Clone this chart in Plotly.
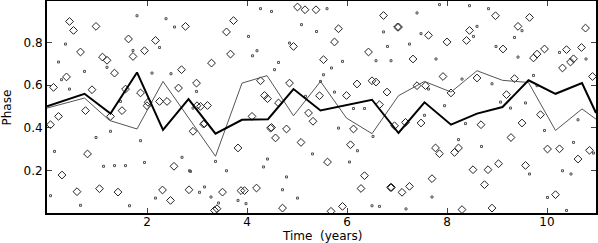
import plotly.graph_objects as go

# Large open diamonds (time in years, phase)
big_x = [0.45, 0.53, 0.98, 0.67, 1.11, 1.20, 1.35, 1.63, 1.72, 1.95, 2.17, 2.77, 2.69, 2.99,
         0.39, 0.13, 0.90, 1.57, 1.87, 2.00, 2.25, 2.40, 2.63, 3.00, 0.77, 1.50,
         0.23, 0.07, 1.27, 0.81, 0.30, 0.60, 1.05, 1.42, 2.31, 2.47, 2.54, 2.84, 2.92, 2.02,
         5.01, 5.16, 5.38, 3.73, 3.59, 3.67, 3.29, 4.93, 5.83, 5.75, 5.53, 6.43, 6.73, 7.01,
         4.27, 4.85, 4.35, 4.41, 4.63, 3.07, 3.21, 5.45, 5.99, 5.23, 6.20, 6.50, 6.58, 6.80, 6.65, 4.10,
         3.15, 3.82, 4.57, 4.47, 4.79, 5.08, 5.61, 6.07, 6.13, 6.35, 6.28, 6.89, 3.51, 3.88, 3.95, 4.19,
         3.40, 3.35, 4.71, 5.68, 5.91, 5.32, 3.13, 4.49,
         7.03, 7.63, 8.00, 8.39, 8.45, 8.97, 9.42, 9.65, 10.77, 9.12, 9.80, 9.73, 9.95, 10.39, 10.69,
         10.53, 10.47, 10.31, 7.32, 7.92, 8.60, 9.35, 10.91, 7.40, 7.57, 8.08, 9.19, 9.87,
         6.95, 7.17, 7.48, 7.77, 7.85, 8.15, 8.23, 8.68, 9.28, 9.50, 10.01, 10.25, 10.85, 10.62,
         9.03, 8.82, 8.52, 9.57, 7.70, 8.75, 7.25, 7.10, 6.87, 10.17, 8.30, 8.90]
big_y = [0.898, 0.856, 0.875, 0.755, 0.731, 0.716, 0.656, 0.816, 0.734, 0.761, 0.809, 0.875, 0.672, 0.609,
         0.638, 0.589, 0.578, 0.581, 0.563, 0.503, 0.523, 0.523, 0.586, 0.503, 0.480, 0.480,
         0.453, 0.414, 0.453, 0.277, 0.178, 0.100, 0.114, 0.098, 0.108, 0.059, 0.219, 0.109, 0.383, 0.519,
         0.966, 0.953, 0.953, 0.902, 0.849, 0.745, 0.703, 0.781, 0.864, 0.802, 0.719, 0.755, 0.926, 0.872,
         0.620, 0.609, 0.551, 0.536, 0.516, 0.500, 0.504, 0.550, 0.551, 0.469, 0.605, 0.620, 0.614, 0.567, 0.508, 0.453,
         0.419, 0.305, 0.352, 0.398, 0.394, 0.331, 0.239, 0.320, 0.394, 0.175, 0.115, 0.120, 0.098, 0.105, 0.105, 0.117,
         0.020, 0.012, 0.023, 0.008, 0.031, 0.430, 0.417, 0.401,
         0.872, 0.833, 0.802, 0.809, 0.856, 0.925, 0.875, 0.917, 0.867, 0.769, 0.745, 0.727, 0.769, 0.766, 0.776,
         0.723, 0.708, 0.680, 0.722, 0.640, 0.633, 0.630, 0.640, 0.597, 0.597, 0.563, 0.555, 0.461,
         0.409, 0.425, 0.422, 0.305, 0.278, 0.284, 0.305, 0.414, 0.354, 0.422, 0.300, 0.301, 0.294, 0.253,
         0.231, 0.203, 0.203, 0.223, 0.161, 0.133, 0.125, 0.097, 0.120, 0.086, 0.016, 0.023]

# Small points
small_x = [1.80, 2.38, 2.55, 0.37, 0.23, 0.75, 1.20, 0.29, 0.45, 1.72, 2.25, 2.10, 2.48, 2.92, 1.47,
           0.07, 0.15, 0.67, 0.98, 1.27, 1.13, 1.35, 1.57, 1.65, 1.87, 1.95, 2.17, 2.70, 2.85,
           4.27, 4.49, 5.60, 5.09, 5.39, 4.03, 4.20, 4.11, 4.63, 4.55, 4.85, 5.69, 5.91, 5.53, 6.58,
           6.88, 6.81, 6.73, 2.99, 5.75, 6.13, 6.35, 5.17, 5.47,
           3.37, 3.59, 4.33, 4.41, 4.79, 4.71, 5.01, 5.31, 6.05, 6.21, 5.83, 6.50, 6.65, 3.15, 3.05,
           3.28, 3.82, 3.98, 3.43, 2.87, 6.52,
           7.85, 8.45, 8.83, 7.40, 8.60, 9.50, 7.48, 8.53, 9.35, 7.25, 8.98, 10.25, 10.78, 7.78, 9.42,
           8.30, 8.90, 9.73, 7.63, 9.80, 9.07, 9.27, 9.57, 7.95,
           7.55, 8.37, 8.69, 8.23, 9.95, 10.53, 10.31, 10.48, 9.65, 7.70, 10.01, 7.18, 10.39, 10.62, 10.93]
small_y = [0.925, 0.911, 0.872, 0.792, 0.708, 0.664, 0.683, 0.625, 0.581, 0.762, 0.776, 0.656, 0.653, 0.492, 0.523,
           0.081, 0.289, 0.036, 0.354, 0.383, 0.219, 0.222, 0.222, 0.034, 0.339, 0.237, 0.070, 0.261, 0.198,
           0.958, 0.945, 0.958, 0.883, 0.851, 0.828, 0.761, 0.737, 0.706, 0.672, 0.797, 0.680, 0.711, 0.648, 0.714,
           0.714, 0.781, 0.849, 0.570, 0.567, 0.490, 0.490, 0.547, 0.617,
           0.242, 0.198, 0.216, 0.253, 0.169, 0.109, 0.070, 0.277, 0.239, 0.292, 0.398, 0.034, 0.031, 0.122, 0.097,
           0.075, 0.059, 0.044, 0.047, 0.195, 0.359,
           0.977, 0.972, 0.958, 0.938, 0.875, 0.855, 0.841, 0.828, 0.823, 0.792, 0.781, 0.753, 0.722, 0.722, 0.731,
           0.628, 0.606, 0.645, 0.581, 0.597, 0.520, 0.492, 0.516, 0.503,
           0.458, 0.419, 0.312, 0.344, 0.387, 0.331, 0.198, 0.183, 0.183, 0.075, 0.073, 0.019, 0.012, 0.437, 0.281]

# Thick (mean) line
thick_x = [0.0, 0.75, 1.27, 1.80, 2.32, 2.83, 3.37, 3.90, 4.42, 4.93, 5.47, 5.99, 6.50, 7.03,
           7.55, 8.08, 8.60, 9.11, 9.63, 10.17, 10.70, 10.98]
thick_y = [0.500, 0.559, 0.466, 0.659, 0.390, 0.534, 0.372, 0.437, 0.440, 0.581, 0.481, 0.508, 0.531, 0.375,
           0.519, 0.414, 0.466, 0.497, 0.622, 0.559, 0.609, 0.469]

# Thin line
thin_x = [0.0, 0.75, 1.25, 1.80, 2.32, 2.83, 3.37, 3.90, 4.40, 4.93, 5.47, 5.99, 6.50, 7.03,
          7.55, 8.08, 8.60, 9.11, 9.63, 10.17, 10.70, 10.98]
thin_y = [0.492, 0.539, 0.434, 0.394, 0.617, 0.449, 0.266, 0.609, 0.644, 0.456, 0.617, 0.445, 0.372, 0.550,
          0.617, 0.567, 0.667, 0.622, 0.612, 0.387, 0.488, 0.440]

fig = go.Figure()
fig.add_trace(go.Scatter(x=small_x, y=small_y, mode="markers",
                         marker=dict(symbol="square-open", size=2, color="#555555",
                                     line=dict(width=1, color="#555555")),
                         hoverinfo="skip"))
fig.add_trace(go.Scatter(x=big_x, y=big_y, mode="markers",
                         marker=dict(symbol="diamond-open", size=6, color="#222222",
                                     line=dict(width=1, color="#222222")),
                         hoverinfo="skip"))
fig.add_trace(go.Scatter(x=thin_x, y=thin_y, mode="lines",
                         line=dict(color="#555555", width=1)))
fig.add_trace(go.Scatter(x=thick_x, y=thick_y, mode="lines",
                         line=dict(color="#000000", width=2)))

font = dict(family="DejaVu Sans", size=12, color="black")
fig.update_layout(
    width=598, height=243, autosize=False,
    margin=dict(l=47, r=2, t=1, b=30),
    paper_bgcolor="white", plot_bgcolor="white",
    showlegend=False,
    font=font,
    xaxis=dict(range=[0, 10.98], tickvals=[2, 4, 6, 8, 10], ticks="inside", ticklen=5,
               showline=True, linecolor="black", linewidth=2, mirror="ticks",
               showgrid=False, zeroline=False, tickfont=font, automargin=False,
               ticklabelstandoff=-3),
    yaxis=dict(range=[0, 0.994], tickvals=[0.2, 0.4, 0.6, 0.8], ticks="inside", ticklen=5,
               showline=True, linecolor="black", linewidth=2, mirror="ticks",
               showgrid=False, zeroline=False, tickfont=font, tickformat=".1f", automargin=False),
    annotations=[
        dict(text="Time  (years)", xref="paper", yref="paper", x=0.5, y=-0.107,
             xanchor="center", yanchor="middle", showarrow=False, font=font),
        dict(text="Phase", xref="paper", yref="paper", x=-0.072, y=0.5, textangle=-90,
             xanchor="center", yanchor="middle", showarrow=False, font=font),
    ],
)
fig.write_html(
    "out.html",
    config={"responsive": False, "displayModeBar": False},
    post_script="document.body.style.margin='0';document.body.style.overflow='hidden';",
)
